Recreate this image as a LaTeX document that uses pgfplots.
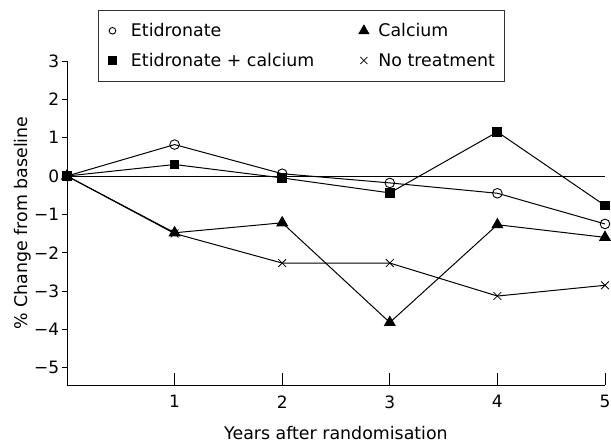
\documentclass[border=0pt]{standalone}
\usepackage{pgfplots}
\pgfplotsset{compat=1.18}
\usepackage{fontspec}
\setmainfont{DejaVu Sans}
\begin{document}
\begin{tikzpicture}[x=1pt,y=1pt]
\useasboundingbox (-67,-58) rectangle (544,385);
\begin{axis}[
  at={(0,0)}, anchor=south west,
  scale only axis, width=538pt, height=324pt,
  xmin=0, xmax=5, ymin=-5.45, ymax=3,
  axis x line=bottom, axis y line=left,
  axis line style={-, line width=0.9pt},
  xtick={1,2,3,4,5}, ytick={-5,-4,-3,-2,-1,0,1,2,3},
  xticklabels={1,2,3,4,5},
  yticklabels={−5,−4,−3,−2,−1,0,1,2,3},
  x tick style={line width=0.8pt, black}, y tick style={line width=0.8pt, black},
  xtick align=inside, ytick align=outside,
  x tick style={/pgfplots/major tick length=12pt},
  y tick style={/pgfplots/major tick length=5pt},
  x tick label style={yshift=-7pt},
  tick label style={font=\fontsize{17}{20}\selectfont},
  xlabel={Years after randomisation},
  ylabel={\% Change from baseline},
  label style={font=\fontsize{17.4}{20}\selectfont},
  xlabel style={yshift=-11pt},
  ylabel style={yshift=-4pt},
  clip=false,
  legend columns=2,
  legend cell align=left,
  legend style={at={(rel axis cs:0.0576,1.157)}, anchor=north west,
    draw=black!80, line width=0.6pt, font=\fontsize{17.4}{20}\selectfont,
    /tikz/every even column/.append style={column sep=41pt},
    nodes={inner sep=2pt},
    inner xsep=7.7pt, inner ysep=11pt, row sep=11pt},
  every axis plot/.append style={line width=1pt, black},
]
\addplot[black, mark=o, mark size=4.8pt, mark options={fill=white, line width=0.9pt},
  legend image code/.code={\path (-6pt,0pt) (16pt,0pt); \draw[black, line width=0.8pt, mark=o, mark size=3.3pt] plot coordinates {(0pt,0pt)};}] coordinates {
 (0,0) (1,0.82) (2,0.06) (3,-0.18) (4,-0.45) (5,-1.25)};
\addlegendentry{Etidronate}
\addplot[black, mark=triangle*, mark size=6pt,
  legend image code/.code={\path (-6pt,0pt) (12pt,0pt); \draw[black, fill=black, mark=triangle*, mark size=5.5pt] plot coordinates {(0pt,0pt)};}] coordinates {
 (0,0) (1,-1.48) (2,-1.22) (3,-3.82) (4,-1.27) (5,-1.6)};
\addlegendentry{Calcium}
\addplot[black, mark=square*, mark size=4.4pt,
  legend image code/.code={\path (-6pt,0pt) (16pt,0pt); \draw[black, fill=black, mark=square*, mark size=3.8pt] plot coordinates {(0pt,0pt)};}] coordinates {
 (0,0) (1,0.3) (2,-0.05) (3,-0.44) (4,1.15) (5,-0.77)};
\addlegendentry{Etidronate + calcium}
\addplot[black, mark=x, mark size=5.5pt, mark options={line width=0.8pt},
  legend image code/.code={\path (-6pt,0pt) (12pt,0pt); \draw[black, line width=0.8pt, mark=x, mark size=5pt] plot coordinates {(0pt,0pt)};}] coordinates {
 (0,0) (1,-1.5) (2,-2.27) (3,-2.27) (4,-3.13) (5,-2.85)};
\addlegendentry{No treatment\hspace{22pt}}
\draw[line width=0.8pt] (axis cs:0,0) -- (axis cs:5,0);
\end{axis}
\end{tikzpicture}
\end{document}
